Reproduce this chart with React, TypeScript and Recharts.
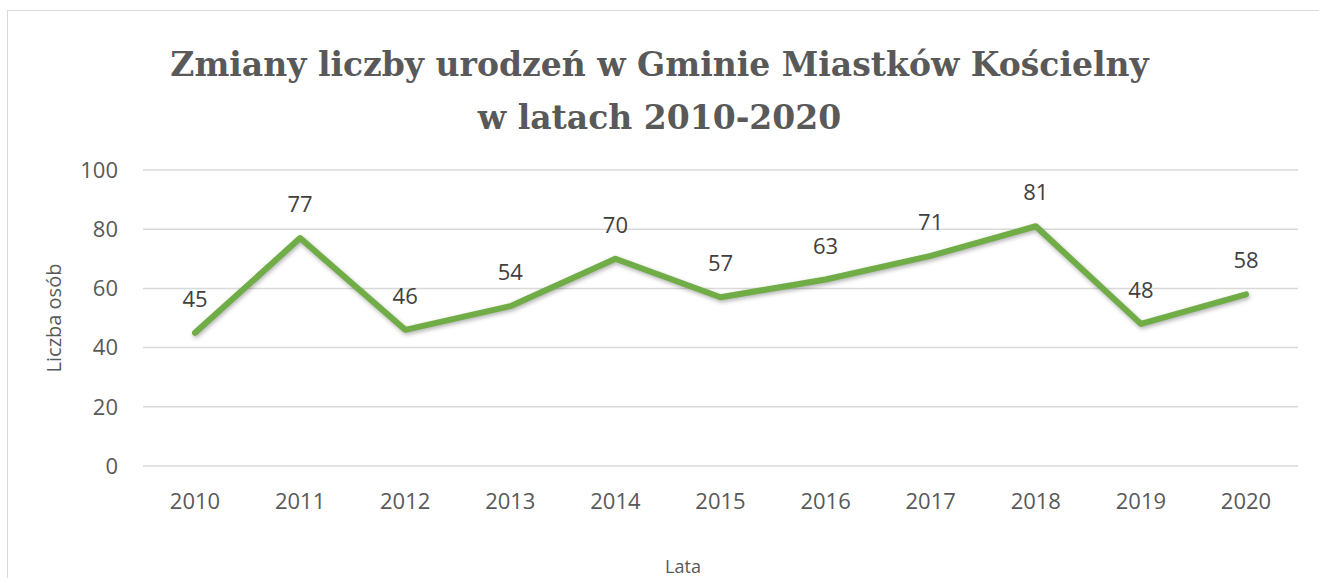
import { LineChart, Line, XAxis, YAxis, CartesianGrid, LabelList } from "recharts";

const years = ["2010", "2011", "2012", "2013", "2014", "2015", "2016", "2017", "2018", "2019", "2020"];
const births = [45, 77, 46, 54, 70, 57, 63, 71, 81, 48, 58];
const yTicks = [0, 20, 40, 60, 80, 100];

const data = years.map((year, i) => ({ year, births: births[i] }));

const axisFont = "'Open Sans', 'Noto Sans', sans-serif";

const App = () => {
  return (
    <div style={{ position: "absolute", left: 0, top: 0, width: 1319, height: 578, background: "#fff", overflow: "hidden" }}>
      <style>{`.births-line .recharts-line-curve { filter: drop-shadow(1px 2px 2px rgba(0,0,0,0.3)); }`}</style>
      {/* chart frame, runs off the right and bottom edges */}
      <div
        style={{
          position: "absolute",
          left: 7,
          top: 10,
          width: 1330,
          height: 600,
          border: "1px solid #d9d9d9",
        }}
      />
      <div
        style={{
          position: "absolute",
          left: 0,
          top: 38,
          width: 1319,
          textAlign: "center",
          fontFamily: "'DejaVu Serif', serif",
          fontWeight: "bold",
          fontSize: 33,
          lineHeight: "53px",
          color: "#595959",
          paddingRight: 4,
        }}
      >
        Zmiany liczby urodzeń w Gminie Miastków Kościelny
        <br />w latach 2010-2020
      </div>
      <div
        style={{
          position: "absolute",
          left: 643,
          top: 554,
          width: 80,
          textAlign: "center",
          fontFamily: axisFont,
          fontSize: 18,
          lineHeight: "24px",
          color: "#595959",
        }}
      >
        Lata
      </div>
      <div style={{ position: "absolute", left: 0, top: 0 }}>
        <LineChart width={1319} height={578} data={data} margin={{ top: 170, right: 21, bottom: 12, left: 0 }}>
          <CartesianGrid vertical={false} stroke="#d9d9d9" strokeWidth={1.5} />
          <XAxis
            dataKey="year"
            axisLine={false}
            tickLine={false}
            height={100}
            tickMargin={21}
            padding={{ left: 52, right: 52 }}
            tick={{ fill: "#595959", fontSize: 22, fontFamily: axisFont }}
          />
          <YAxis
            domain={[0, 100]}
            ticks={yTicks}
            axisLine={false}
            tickLine={false}
            width={143}
            tickMargin={19}
            tick={{ fill: "#595959", fontSize: 22, fontFamily: axisFont }}
            label={{
              value: "Liczba osób",
              angle: -90,
              position: "insideLeft",
              offset: 54,
              style: { textAnchor: "middle" },
              fill: "#595959",
              fontSize: 20,
              fontFamily: axisFont,
            }}
          />
          <Line
            className="births-line"
            type="linear"
            dataKey="births"
            stroke="#70ad47"
            strokeWidth={6}
            strokeLinecap="round"
            strokeLinejoin="round"
            dot={false}
            isAnimationActive={false}
          >
            <LabelList
              dataKey="births"
              position="top"
              offset={26}
              fill="#404040"
              fontSize={22}
              fontFamily={axisFont}
            />
          </Line>
        </LineChart>
      </div>
    </div>
  );
};

export default App;
